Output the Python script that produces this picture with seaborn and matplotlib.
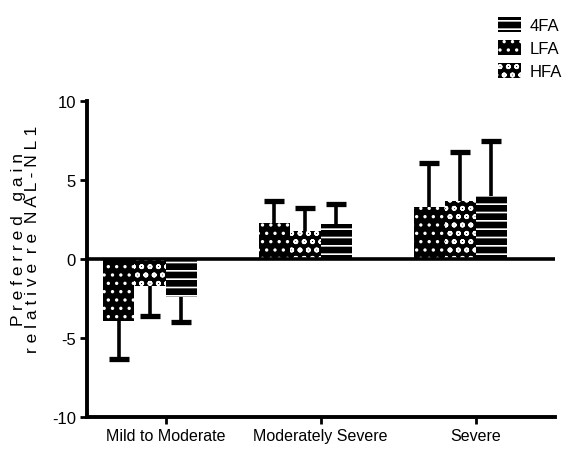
import matplotlib
matplotlib.use("Agg")
import matplotlib.pyplot as plt
from matplotlib.patches import Patch
import numpy as np
import pandas as pd
import seaborn as sns

# Hearing-loss groups and the three fitting conditions
categories = ["Mild to Moderate", "Moderately Severe", "Severe"]
conditions = ["LFA", "HFA", "4FA"]
legend_order = ["4FA", "LFA", "HFA"]

# Mean preferred gain relative to NAL-NL1 (dB) and one-sided error (SD)
lfa_mean = [-3.9, 2.3, 3.3]
lfa_err = [2.4, 1.4, 2.8]
hfa_mean = [-1.7, 1.8, 3.7]
hfa_err = [1.9, 1.4, 3.1]
fa4_mean = [-2.4, 2.2, 4.0]
fa4_err = [1.6, 1.3, 3.5]

y_ticks = [-10, -5, 0, 5, 10]

means = {"LFA": lfa_mean, "HFA": hfa_mean, "4FA": fa4_mean}
errs = {"LFA": lfa_err, "HFA": hfa_err, "4FA": fa4_err}
hatches = {"LFA": "..", "HFA": "oo", "4FA": "--"}

df = pd.DataFrame(
    [(c, k, means[k][i]) for k in conditions for i, c in enumerate(categories)],
    columns=["group", "condition", "gain"],
)

sns.set_style("ticks")
plt.rcParams["font.family"] = ["Liberation Sans", "DejaVu Sans"]
plt.rcParams["text.color"] = "black"
plt.rcParams["hatch.linewidth"] = 1.2
plt.rcParams["hatch.color"] = "white"

fig = plt.figure(figsize=(5.63, 4.56), dpi=100)
ax = fig.add_axes([0.1545, 0.0833, 0.8315, 0.6930])

sns.barplot(
    data=df, x="group", y="gain", hue="condition",
    order=categories, hue_order=conditions,
    palette=["black"] * 3, errorbar=None, width=0.6,
    linewidth=0, edgecolor="white", legend=False, ax=ax,
)

for cont, cond in zip(ax.containers, conditions):
    xs, ys, ends = [], [], []
    for bar, m, e in zip(cont, means[cond], errs[cond]):
        bar.set_hatch(hatches[cond])
        bar.set_facecolor("black")
        bar.set_edgecolor("white")
        xs.append(bar.get_x() + bar.get_width() / 2)
        ys.append(m)
        ends.append(m - e if m < 0 else m + e)
    # one-sided error: stem away from zero, cap only at the far end
    lo = [m - en if m < 0 else 0 for m, en in zip(ys, ends)]
    hi = [en - m if m >= 0 else 0 for m, en in zip(ys, ends)]
    ax.errorbar(xs, ys, yerr=[lo, hi], fmt="none", ecolor="black",
                elinewidth=2.6, capsize=0, zorder=3)
    ax.plot(xs, ends, linestyle="none", marker="_", markersize=14,
            markeredgewidth=3.8, color="black", zorder=3)

ax.axhline(0, color="black", lw=2.6, zorder=4)

ax.set_ylim(-10, 10)
ax.set_xlim(-0.406, 2.61)
ax.set_yticks(y_ticks)
ax.set_yticklabels([str(t) for t in y_ticks], fontsize=12)
ax.set_xticks([0.1, 1.1, 2.1])
ax.set_xticklabels(categories, fontsize=11.5)
ax.set_xlabel("")
ax.set_ylabel("")
ax.tick_params(axis="both", direction="out", length=5, width=2, pad=3,
               color="black", labelcolor="black")

sns.despine(ax=ax)
for s in ("left", "bottom"):
    ax.spines[s].set_linewidth(2.8)
    ax.spines[s].set_color("black")

fig.text(0.045, 0.475, "P r e f e r r e d   g a i n\nr e l a t i v e  r e  N A L - N L 1",
         rotation=90, ha="center", va="center", fontsize=12.5, linespacing=0.9,
         multialignment="center", color="black")

handles = [Patch(facecolor="black", edgecolor="white", linewidth=0,
                 hatch=hatches[k], label=k) for k in legend_order]
fig.legend(handles=handles, loc="upper left", bbox_to_anchor=(0.872, 0.975),
           frameon=False, fontsize=12, handlelength=1.4, handleheight=1.0,
           labelspacing=0.4, handletextpad=0.5, borderaxespad=0,
           labelcolor="black")

fig.savefig("out.png", dpi=100)
